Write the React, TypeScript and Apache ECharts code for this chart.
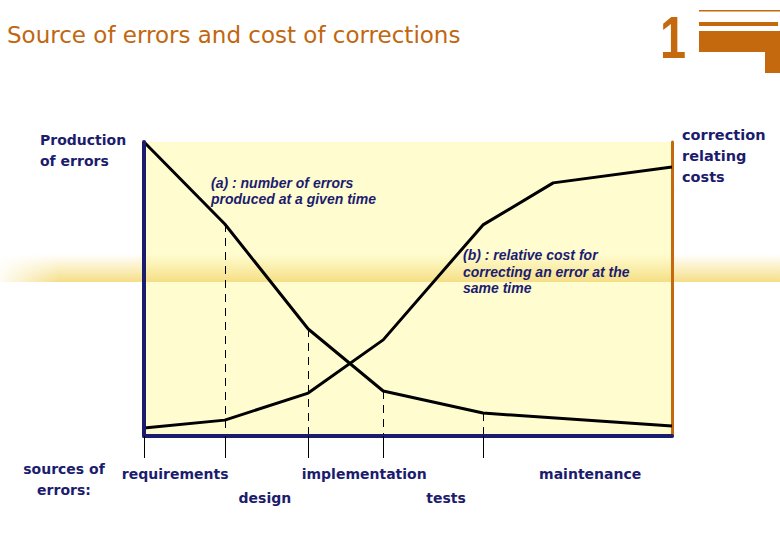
import React, { useEffect, useRef } from "react";
import * as echarts from "echarts";

// ---- data (arbitrary units: x = project time 0..100, y = relative level 0..100)
const errorsX = [0, 15.3, 31.1, 45.3, 64.2, 100];
const errorsY = [100, 72.1, 36.4, 15.3, 7.8, 3.4];
const costX = [0, 15.3, 31.1, 45.3, 64.2, 77.5, 100];
const costY = [2.7, 5.4, 14.6, 32.7, 71.8, 86.1, 91.5];
const phaseBoundaryIdx = [1, 2, 3, 4]; // indices in errorsX where dashed lines fall
const phaseTicks = [0, 15.3, 31.1, 45.3, 64.2];
const phaseLabels = ["requirements", "design", "implementation", "tests", "maintenance"];
const phaseLabelX = [5.9, 22.9, 41.7, 57.2, 84.5];
const phaseLabelRow = [0, 1, 0, 1, 0];

const NAVY = "#1c1c6e";
const ORANGE = "#c5690e";
const FONT = "'DejaVu Sans', sans-serif";

export default function App() {
  const ref = useRef<HTMLDivElement>(null);
  useEffect(() => {
    if (!ref.current) return;
    const chart = echarts.init(ref.current, null, { renderer: "svg" });
    const option: any = {
      animation: false,
      backgroundColor: "#ffffff",
      title: {
        text: "Source of errors and cost of corrections",
        left: 2,
        top: 18,
        textStyle: { color: "#c0670f", fontFamily: FONT, fontWeight: "normal", fontSize: 23 },
      },
      grid: { left: 144, top: 142, width: 528, height: 294, show: false },
      xAxis: {
        type: "value",
        min: 0,
        max: 100,
        z: 5,
        axisLine: { show: true, lineStyle: { color: NAVY, width: 4 } },
        splitLine: { show: false },
        axisTick: {
          show: true,
          customValues: phaseTicks,
          length: 22,
          lineStyle: { color: "#000", width: 1 },
        },
        axisLabel: {
          show: true,
          customValues: phaseLabelX,
          margin: 26,
          color: NAVY,
          fontFamily: FONT,
          fontWeight: "bold",
          fontSize: 14,
          lineHeight: 24,
          formatter: (v: number) => {
            const i = phaseLabelX.findIndex((p) => Math.abs(p - v) < 0.01);
            if (i < 0) return "";
            return phaseLabelRow[i] === 1 ? "\n" + phaseLabels[i] : phaseLabels[i];
          },
        },
      },
      yAxis: [
        {
          type: "value",
          min: 0,
          max: 100,
          position: "left",
          z: 5,
          axisLine: { show: true, lineStyle: { color: NAVY, width: 4 } },
          axisTick: { show: false },
          axisLabel: { show: false },
          splitLine: { show: false },
        },
        {
          type: "value",
          min: 0,
          max: 100,
          position: "right",
          z: 4,
          axisLine: { show: true, lineStyle: { color: ORANGE, width: 3 } },
          axisTick: { show: false },
          axisLabel: { show: false },
          splitLine: { show: false },
        },
      ],
      graphic: {
        elements: [
          // plot background
          { type: "rect", z: -10, shape: { x: 144, y: 142, width: 528, height: 294 }, style: { fill: "#fffcd0" } },
          // horizontal band
          {
            type: "rect",
            z: -9,
            shape: { x: 0, y: 254, width: 780, height: 28 },
            style: {
              fill: new echarts.graphic.LinearGradient(0, 0, 0, 1, [
                { offset: 0, color: "rgba(246,226,140,0)" },
                { offset: 0.6, color: "rgba(246,224,135,0.6)" },
                { offset: 1, color: "rgba(244,220,128,0.95)" },
              ]),
            },
          },
          {
            type: "rect",
            z: -8,
            shape: { x: 0, y: 250, width: 60, height: 34 },
            style: {
              fill: new echarts.graphic.LinearGradient(0, 0, 1, 0, [
                { offset: 0, color: "rgba(255,255,255,0.9)" },
                { offset: 1, color: "rgba(255,255,255,0)" },
              ]),
            },
          },
          // logo
          {
            type: "text",
            z: 1,
            x: 660,
            y: 7,
            scaleX: 0.78,
            style: { x: 0, y: 0, text: "1", fill: ORANGE, font: "bold 60px 'Liberation Sans', sans-serif" },
          },
          { type: "rect", z: 1, shape: { x: 699, y: 10, width: 81, height: 1.5 }, style: { fill: ORANGE } },
          { type: "rect", z: 1, shape: { x: 699, y: 22, width: 79, height: 4 }, style: { fill: ORANGE } },
          { type: "rect", z: 1, shape: { x: 699, y: 31, width: 81, height: 21 }, style: { fill: ORANGE } },
          { type: "rect", z: 1, shape: { x: 765, y: 31, width: 15, height: 42 }, style: { fill: ORANGE } },
          // axis captions
          {
            type: "text",
            z: 1,
            style: { x: 40, y: 129, text: "Production\nof errors", fill: NAVY, font: "bold 14px 'DejaVu Sans', sans-serif", lineHeight: 21 },
          },
          {
            type: "text",
            z: 1,
            style: { x: 682, y: 124, text: "correction\nrelating\ncosts", fill: NAVY, font: "bold 14.5px 'DejaVu Sans', sans-serif", lineHeight: 21 },
          },
          {
            type: "text",
            z: 1,
            style: { x: 64, y: 458, text: "sources of\nerrors:", align: "center", fill: NAVY, font: "bold 14px 'DejaVu Sans', sans-serif", lineHeight: 21 },
          },
          // annotations
          {
            type: "text",
            z: 1,
            style: { x: 211, y: 175, text: "(a) : number of errors\nproduced at a given time", fill: NAVY, font: "italic bold 14px 'Liberation Sans', sans-serif", lineHeight: 16 },
          },
          {
            type: "text",
            z: 1,
            style: { x: 463, y: 247, text: "(b) : relative cost for\ncorrecting an error at the\nsame time", fill: NAVY, font: "italic bold 14px 'Liberation Sans', sans-serif", lineHeight: 16.5 },
          },
        ],
      },
      series: [
        {
          name: "(a) number of errors produced",
          type: "line",
          z: 4,
          data: errorsX.map((x, i) => [x, errorsY[i]]),
          showSymbol: false,
          symbol: "none",
          lineStyle: { color: "#000", width: 3 },
          markLine: {
            silent: true,
            symbol: ["none", "none"],
            label: { show: false },
            lineStyle: { color: "#000", width: 1, type: [8, 6] },
            data: phaseBoundaryIdx.map((i) => [
              { coord: [errorsX[i], errorsY[i]] },
              { coord: [errorsX[i], 0] },
            ]),
          },
        },
        {
          name: "(b) relative cost of correction",
          type: "line",
          z: 4,
          data: costX.map((x, i) => [x, costY[i]]),
          showSymbol: false,
          symbol: "none",
          lineStyle: { color: "#000", width: 3 },
        },
      ],
    };
    chart.setOption(option);
    return () => chart.dispose();
  }, []);
  return <div ref={ref} style={{ position: "fixed", left: 0, top: 0, width: 780, height: 540 }} />;
}
